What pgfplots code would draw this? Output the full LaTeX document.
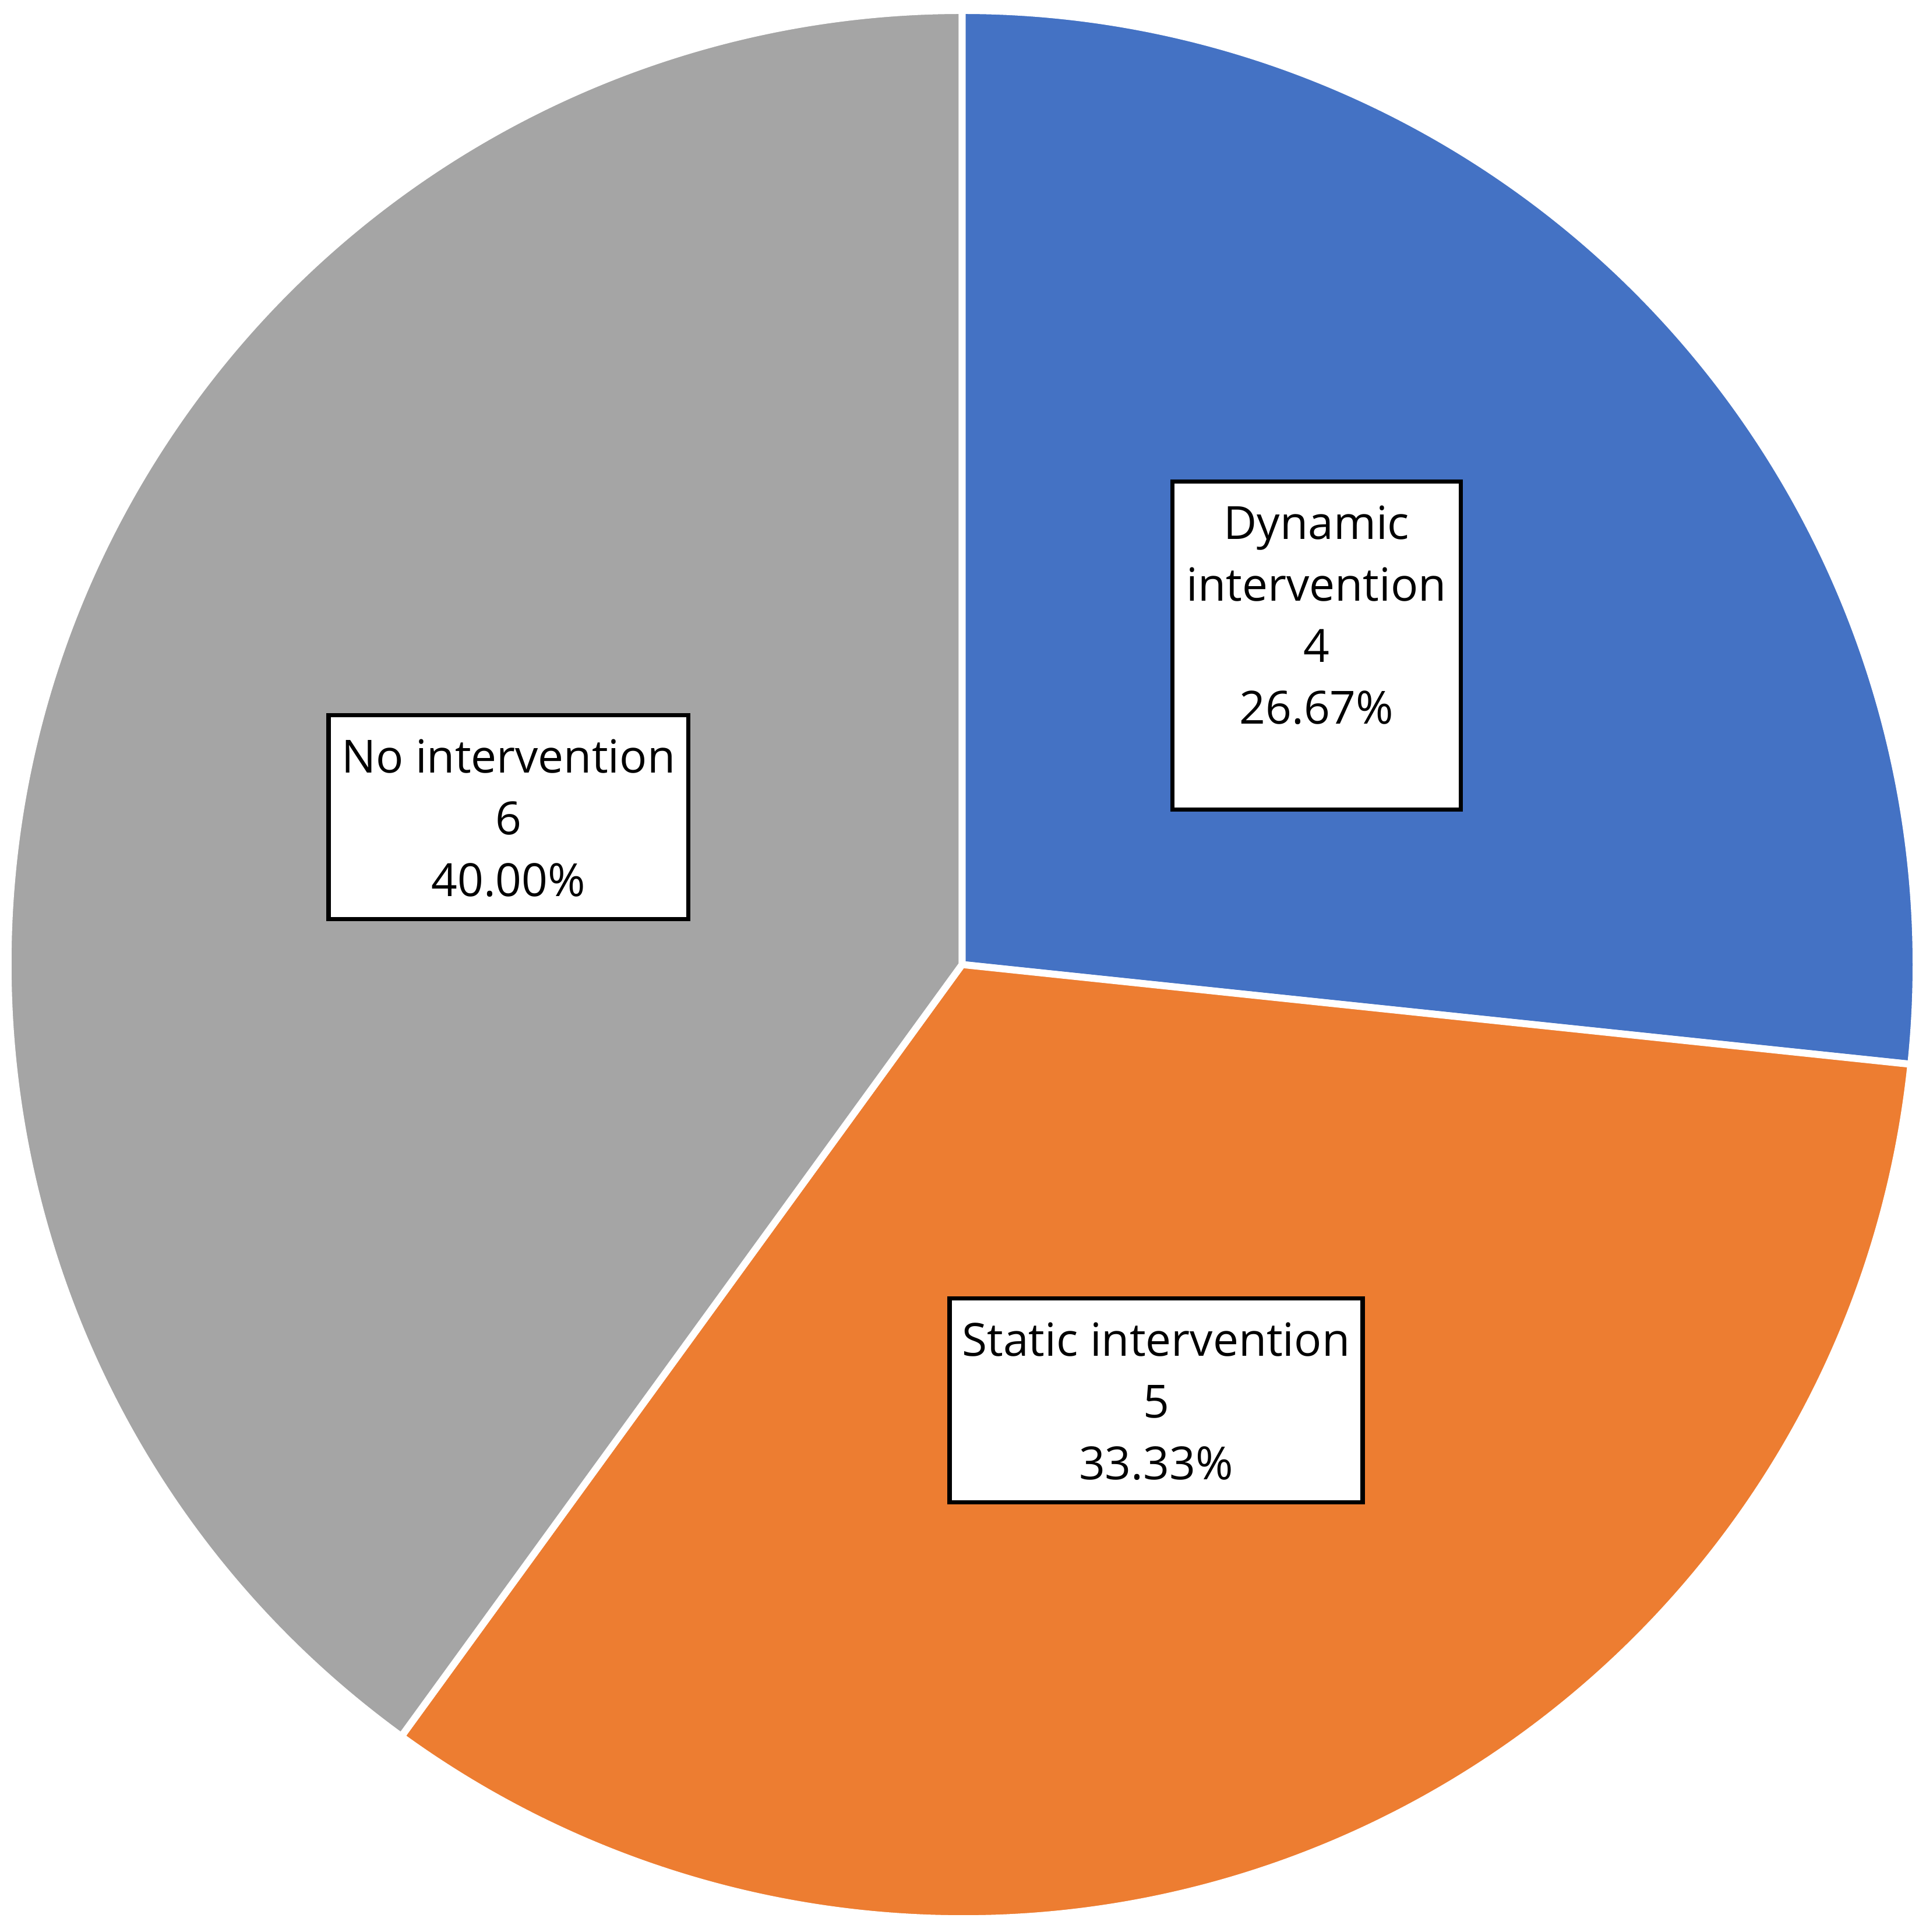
\documentclass[border=0pt]{standalone}
\usepackage{fontspec}
\setmainfont{Open Sans}
\usepackage{pgfplots}
\usepackage{pgfplotstable}
\pgfplotsset{compat=1.18}
\usetikzlibrary{calc}

\definecolor{dynblue}{HTML}{4472C4}
\definecolor{statorange}{HTML}{ED7D31}
\definecolor{nogray}{HTML}{A5A5A5}

% counts per group
\pgfplotstableread{
slice count
0 4
1 5
2 6
}\piedata

\begin{document}
\begin{tikzpicture}
\pgfplotstablegetelem{0}{count}\of\piedata \let\vA\pgfplotsretval
\pgfplotstablegetelem{1}{count}\of\piedata \let\vB\pgfplotsretval
\pgfplotstablegetelem{2}{count}\of\piedata \let\vC\pgfplotsretval
\pgfmathsetmacro\total{\vA+\vB+\vC}
% slices run clockwise from 12 o'clock
\pgfmathsetmacro\aA{90-360*\vA/\total}
\pgfmathsetmacro\aB{\aA-360*\vB/\total}
\pgfmathsetmacro\aC{\aB-360*\vC/\total}
\pgfmathsetmacro\mA{(90+\aA)/2}
\pgfmathsetmacro\mB{(\aA+\aB)/2}
\pgfmathsetmacro\mC{(\aB+\aC)/2}
\pgfmathsetmacro\pA{100*\vA/\total}
\pgfmathsetmacro\pB{100*\vB/\total}
\pgfmathsetmacro\pC{100*\vC/\total}
\newcommand\pct[1]{\pgfmathprintnumber[fixed,fixed zerofill,precision=2,assume math mode=true]{#1}\%}

\begin{axis}[
    x=8cm, y=8cm,
    xmin=-1.0085, xmax=1.0098,
    ymin=-1.0140, ymax=1.0110,
    hide axis, clip=false, disabledatascaling,
    ]
\coordinate (bl) at (rel axis cs:0,0);
\coordinate (tr) at (rel axis cs:1,1);
\filldraw[fill=dynblue, draw=white, line width=1.67pt]
    (axis cs:0,0) -- (axis cs:{cos(90)},{sin(90)})
    arc[start angle=90, end angle=\aA, radius=8cm] -- cycle;
\filldraw[fill=statorange, draw=white, line width=1.67pt]
    (axis cs:0,0) -- (axis cs:{cos(\aA)},{sin(\aA)})
    arc[start angle=\aA, end angle=\aB, radius=8cm] -- cycle;
\filldraw[fill=nogray, draw=white, line width=1.67pt]
    (axis cs:0,0) -- (axis cs:{cos(\aB)},{sin(\aB)})
    arc[start angle=\aB, end angle=\aC, radius=8cm] -- cycle;

% data labels
\node[draw, fill=white, line width=1pt, inner sep=0pt,
      minimum width=2.418cm, minimum height=2.75cm]
    at (axis cs:{0.5*cos(\mA)},{0.5*sin(\mA)}) {};
\node[anchor=base, inner sep=0pt, font=\fontsize{10.9}{14.7}\selectfont]
    at ($(axis cs:{0.5*cos(\mA)},{0.5*sin(\mA)})+(0,0.891cm)$)
    {\begin{tabular}[t]{@{}c@{}}Dynamic\\intervention\\\vA\\\pct{\pA}\end{tabular}};

\node[draw, fill=white, line width=1pt, inner sep=0pt,
      minimum width=3.464cm, minimum height=1.71cm]
    at (axis cs:{0.5*cos(\mB)},{0.5*sin(\mB)}) {};
\node[anchor=base, inner sep=0pt, font=\fontsize{10.9}{14.7}\selectfont]
    at ($(axis cs:{0.5*cos(\mB)},{0.5*sin(\mB)})+(0,0.371cm)$)
    {\begin{tabular}[t]{@{}c@{}}Static intervention\\\vB\\\pct{\pB}\end{tabular}};

\node[draw, fill=white, line width=1pt, inner sep=0pt,
      minimum width=3.017cm, minimum height=1.71cm]
    at (axis cs:{0.5*cos(\mC)},{0.5*sin(\mC)}) {};
\node[anchor=base, inner sep=0pt, font=\fontsize{10.9}{14.7}\selectfont]
    at ($(axis cs:{0.5*cos(\mC)},{0.5*sin(\mC)})+(0,0.371cm)$)
    {\begin{tabular}[t]{@{}c@{}}No intervention\\\vC\\\pct{\pC}\end{tabular}};
\end{axis}
\pgfresetboundingbox
\path (bl) rectangle (tr);
\end{tikzpicture}
\end{document}
